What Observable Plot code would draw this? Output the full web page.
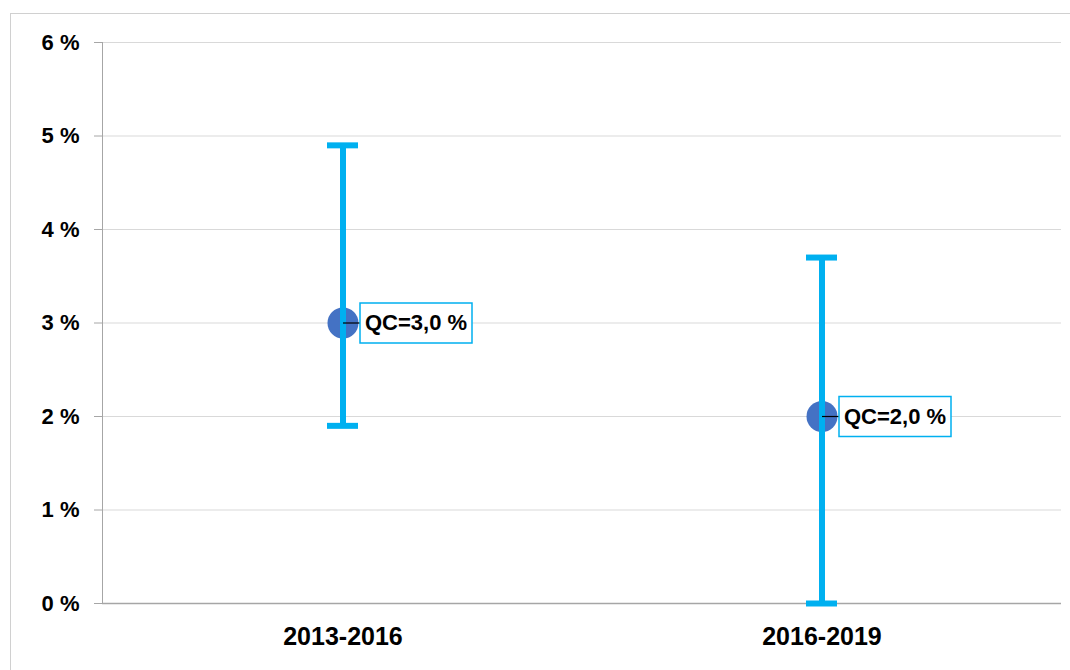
<!DOCTYPE html>
<html>
<head>
<meta charset="utf-8">
<script src="https://cdn.jsdelivr.net/npm/d3@7"></script>
<script src="https://cdn.jsdelivr.net/npm/@observablehq/plot@0.6"></script>
<style>
  html, body { margin: 0; padding: 0; background: #fff; overflow: hidden; }
  #wrap { position: relative; width: 1070px; height: 670px; }
  #frame { position: absolute; left: 10px; top: 13px; width: 1200px; height: 800px;
           border-left: 1.5px solid #d0d0d0; border-top: 1.5px solid #d0d0d0; pointer-events: none; }
  #chart { position: absolute; left: 0; top: 0; }
</style>
</head>
<body>
<div id="wrap"><div id="frame"></div><div id="chart"></div></div>
<script>
const periods = ["2013-2016", "2016-2019"];
const qc = [3.0, 2.0];
const lower = [1.9, 0.0];
const upper = [4.9, 3.7];
const yTicks = [0, 1, 2, 3, 4, 5, 6];

const data = periods.map((p, i) => ({
  period: p, qc: qc[i], low: lower[i], high: upper[i],
  label: `QC=${qc[i].toFixed(1).replace(".", ",")} %`
}));

const font = "'Liberation Sans', Arial, sans-serif";
const boxW = 112, boxH = 40, gap = 17;
const boxSymbol = { draw(ctx) { ctx.rect(gap, -boxH / 2, boxW, boxH); } };
const leaderSymbol = { draw(ctx) { ctx.moveTo(0, 0); ctx.lineTo(gap, 0); } };

const chart = Plot.plot({
  width: 1070,
  height: 670,
  marginLeft: 102,
  marginRight: 9,
  marginTop: 42,
  marginBottom: 67,
  style: { fontFamily: font, background: "transparent", overflow: "visible" },
  x: { domain: periods, padding: 0, label: null },
  y: { domain: [0, 6], label: null },
  marks: [
    Plot.gridY(yTicks, { stroke: "#d9d9d9", strokeOpacity: 1, strokeWidth: 1 }),
    Plot.ruleY([0], { stroke: "#a6a6a6", strokeWidth: 1.5 }),
    Plot.frame({ anchor: "left", stroke: "#a6a6a6", strokeWidth: 1 }),
    Plot.axisY({ ticks: yTicks, tickFormat: d => `${d} %`, tickSize: 8, tickPadding: 15,
                 fontSize: 22, fontWeight: "bold", fill: "#000", stroke: "#a6a6a6", label: null }),
    Plot.axisX({ tickSize: 0, tickPadding: 24, fontSize: 25, fontWeight: "bold", fill: "#000", label: null }),
    Plot.dot(data, { x: "period", y: "qc", r: 15.5, fill: "#4472C4", stroke: "none" }),
    Plot.ruleX(data, { x: "period", y1: "low", y2: "high", stroke: "#00B0F0", strokeWidth: 6 }),
    Plot.tickY(data, { x: "period", y: "low", stroke: "#00B0F0", strokeWidth: 6, insetLeft: 224, insetRight: 224 }),
    Plot.tickY(data, { x: "period", y: "high", stroke: "#00B0F0", strokeWidth: 6, insetLeft: 224, insetRight: 224 }),
    Plot.dot(data, { x: "period", y: "qc", symbol: leaderSymbol, r: 5, stroke: "#000", strokeWidth: 1.2, fill: "none" }),
    Plot.dot(data, { x: "period", y: "qc", symbol: boxSymbol, r: 5, fill: "#fff", stroke: "#00B0F0", strokeWidth: 1.5 }),
    Plot.text(data, { x: "period", y: "qc", text: "label", dx: gap + boxW / 2, fontSize: 22, fontWeight: "bold", fill: "#000" })
  ]
});
document.getElementById("chart").appendChild(chart);
</script>
</body>
</html>
